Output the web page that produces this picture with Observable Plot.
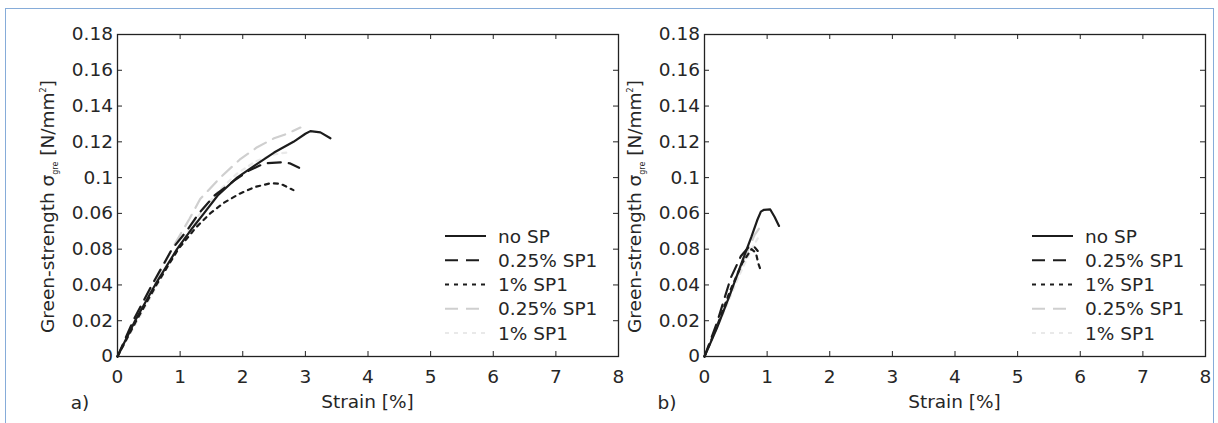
<!DOCTYPE html>
<html><head><meta charset="utf-8">
<script src="https://cdn.jsdelivr.net/npm/d3@7"></script>
<script src="https://cdn.jsdelivr.net/npm/@observablehq/plot@0.6"></script>
<style>
html,body{margin:0;padding:0;background:#fff;}
body{width:1218px;height:423px;overflow:hidden;position:relative;font-family:"DejaVu Sans",sans-serif;}
#frame{position:absolute;left:5px;top:8px;width:1209px;height:440px;border:1.5px solid #86acd9;box-sizing:border-box;}
.panel{position:absolute;top:0;}
</style></head><body>
<div id="frame"></div>
<div id="pa" class="panel" style="left:0px"></div>
<div id="pb" class="panel" style="left:587px"></div>
<script>
// ---- tick labels (as printed in the original figure) ----
const xTickVals = [0,1,2,3,4,5,6,7,8];
const xTickLabels = ["0","1","2","3","4","5","6","7","8"];
const yTickVals = [0,0.02,0.04,0.06,0.08,0.1,0.12,0.14,0.16,0.18];
const yTickLabels = ["0","0.02","0.04","0.08","0.06","0.1","0.12","0.14","0.16","0.18"];
const seriesNames = ["no SP","0.25% SP1","1% SP1","0.25% SP1","1% SP1"];
const panelLabels = ["a)","b)"];
const xTitle = "Strain [%]";

// ---- panel a data ----
const a_noSP_x = [0,0.28,0.6,0.95,1.2,1.38,1.6,1.91,2.2,2.5,2.81,3.0,3.08,3.24,3.4];
const a_noSP_y = [0,0.02,0.04,0.06,0.072,0.08,0.09,0.1,0.107,0.114,0.12,0.1245,0.126,0.1253,0.122];
const a_025_x = [0,0.25,0.55,0.87,1.1,1.3,1.55,1.85,2.1,2.35,2.6,2.75,2.9];
const a_025_y = [0,0.02,0.04,0.06,0.07,0.08,0.09,0.098,0.104,0.108,0.1085,0.108,0.1055];
const a_1_x = [0,0.3,0.62,0.97,1.25,1.48,1.7,1.95,2.2,2.44,2.6,2.81];
const a_1_y = [0,0.02,0.04,0.06,0.072,0.08,0.086,0.091,0.0948,0.0968,0.0966,0.093];
const a_025L_x = [0,0.3,0.6,0.9,1.15,1.32,1.64,1.95,2.23,2.5,2.7,2.92];
const a_025L_y = [0,0.021,0.042,0.062,0.077,0.088,0.1,0.11,0.117,0.122,0.1244,0.128];
const a_1L_x = [0,0.35,0.7,1.0,1.3,1.6,1.9,2.2,2.5,2.7];
const a_1L_y = [0,0.022,0.044,0.063,0.079,0.092,0.102,0.109,0.113,0.114];

// ---- panel b data ----
const b_noSP_x = [0,0.2,0.4,0.6,0.75,0.84,0.9,0.95,1.05,1.12,1.19];
const b_noSP_y = [0,0.016,0.034,0.053,0.067,0.076,0.081,0.082,0.0822,0.078,0.073];
const b_025_x = [0,0.2,0.42,0.58,0.7,0.78,0.85];
const b_025_y = [0,0.019,0.044,0.056,0.061,0.062,0.059];
const b_1_x = [0,0.2,0.4,0.6,0.75,0.82,0.86,0.9];
const b_1_y = [0,0.017,0.036,0.052,0.06,0.058,0.052,0.048];
const b_025L_x = [0,0.25,0.5,0.7,0.8,0.88];
const b_025L_y = [0,0.021,0.043,0.06,0.068,0.072];
const b_1L_x = [0,0.3,0.55,0.75,0.85];
const b_1L_y = [0,0.024,0.045,0.06,0.066];

function rows(xs, ys, k){ return xs.map((x,i)=>({x, y: ys[i], k})); }
const dataA = [].concat(rows(a_noSP_x,a_noSP_y,0),rows(a_025_x,a_025_y,1),rows(a_1_x,a_1_y,2),rows(a_025L_x,a_025L_y,3),rows(a_1L_x,a_1L_y,4));
const dataB = [].concat(rows(b_noSP_x,b_noSP_y,0),rows(b_025_x,b_025_y,1),rows(b_1_x,b_1_y,2),rows(b_025L_x,b_025L_y,3),rows(b_1L_x,b_1L_y,4));

// ---- styles / layout ----
const FONT = "DejaVu Sans";
const FS = 18.5;
const TXT = "#262626";
const W = 623, H = 423, ML = 117, MR = 5, MT = 34, MB = 67;
const PW = W-ML-MR, PH = H-MT-MB, TK = 5;
const styles = [
  {stroke:"#1c1c1c", dash:undefined, w:2.2},
  {stroke:"#1c1c1c", dash:"13,8", w:2.2},
  {stroke:"#1c1c1c", dash:"4,5", w:2.2},
  {stroke:"#cfcfcf", dash:"13,8", w:2.2},
  {stroke:"#e9e9e9", dash:"4,5", w:2.2}
];

function panel(el, data, idx){
  const order = [4,3,2,1,0];
  const lines = order.map(k => Plot.line(data.filter(d=>d.k===k), {
    x:"x", y:"y", stroke: styles[k].stroke, strokeWidth: styles[k].w,
    strokeDasharray: styles[k].dash, strokeLinejoin:"round"
  }));
  const plot = Plot.plot({
    width: W, height: H, marginLeft: ML, marginRight: MR, marginTop: MT, marginBottom: MB,
    style: {fontFamily: FONT, fontSize: FS+"px", color: TXT, background: "transparent", overflow: "visible"},
    x: {domain:[0,8]},
    y: {domain:[0,0.18]},
    marks: [
      ...lines,
      Plot.ruleX(xTickVals, {x: d=>d, insetTop: PH-TK, stroke:"#222"}),
      Plot.ruleX(xTickVals, {x: d=>d, insetBottom: PH-TK, stroke:"#222"}),
      Plot.ruleY(yTickVals, {y: d=>d, insetRight: PW-TK, stroke:"#222"}),
      Plot.ruleY(yTickVals, {y: d=>d, insetLeft: PW-TK, stroke:"#222"}),
      Plot.frame({stroke:"#222", strokeWidth:1.3}),
      Plot.axisX(xTickVals, {tickSize:0, tickPadding:13, label:null, tickFormat: d => xTickLabels[xTickVals.indexOf(d)]}),
      Plot.axisY(yTickVals, {tickSize:0, tickPadding:4.5, label:null, tickFormat: d => yTickLabels[yTickVals.findIndex(v=>Math.abs(v-d)<1e-9)]})
    ]
  });
  const svg = d3.select(plot);
  const xs = plot.scale("x");
  const x0 = xs.apply(0);
  // x title
  svg.append("text").attr("x", xs.apply(4)).attr("y", 408).attr("text-anchor","middle")
    .attr("fill",TXT).attr("font-family",FONT).attr("font-size",FS).text(xTitle);
  // panel label
  svg.append("text").attr("x", x0-37).attr("y", 409).attr("text-anchor","middle")
    .attr("fill",TXT).attr("font-family",FONT).attr("font-size",FS).text(panelLabels[idx]);
  // y title
  const yt = svg.append("text").attr("transform",`translate(${x0-63},333) rotate(-90)`)
    .attr("fill",TXT).attr("font-family",FONT).attr("font-size",FS).attr("text-anchor","start");
  yt.append("tspan").text("Green-strength σ");
  yt.append("tspan").attr("font-size",8).attr("dy",4).text("gre");
  yt.append("tspan").attr("dy",-4).text(" [N/mm");
  yt.append("tspan").attr("font-size",8).attr("dy",-8).text("2");
  yt.append("tspan").attr("dy",8).text("]");
  // legend
  const lg = svg.append("g").attr("text-anchor","start");
  seriesNames.forEach((name,i)=>{
    const yy = 236 + i*24.25;
    const s = styles[i];
    lg.append("line").attr("x1",x0+328).attr("x2",x0+369).attr("y1",yy).attr("y2",yy)
      .attr("stroke",s.stroke).attr("stroke-width",s.w).attr("stroke-dasharray",s.dash||null);
    lg.append("text").attr("x",x0+381).attr("y",yy).attr("dy","0.36em").attr("text-anchor","start")
      .attr("fill",TXT).attr("font-family",FONT).attr("font-size",FS).text(name);
  });
  document.getElementById(el).appendChild(plot);
}
panel("pa", dataA, 0);
panel("pb", dataB, 1);
</script>
</body></html>
